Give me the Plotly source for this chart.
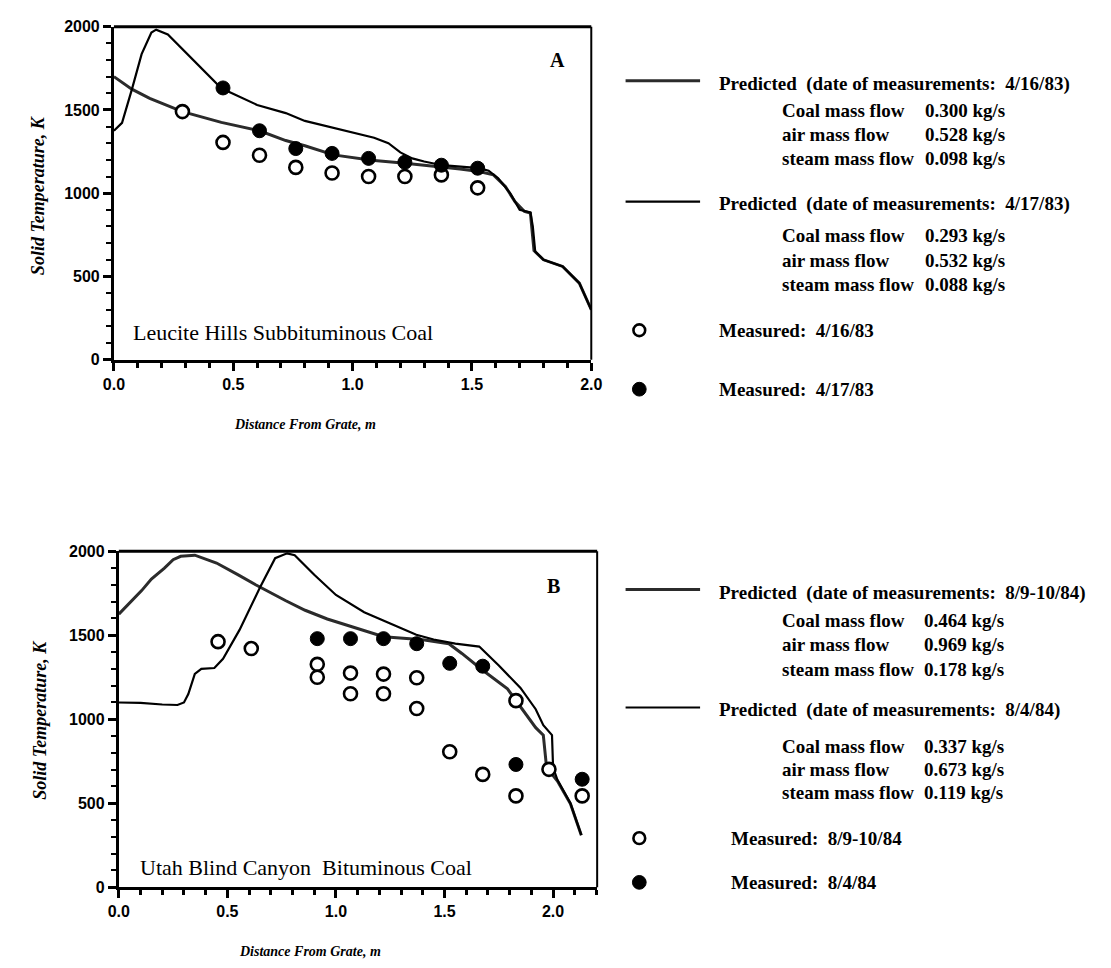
import plotly.graph_objects as go

W, H = 1111, 968

# ---------------- Panel A data (Leucite Hills) ----------------
a_pred1_x = [0, 0.075, 0.15, 0.287, 0.45, 0.61, 0.72, 0.8, 0.92, 1.0, 1.08, 1.22, 1.3, 1.375,
             1.45, 1.53, 1.59, 1.64, 1.68, 1.72, 1.745, 1.76, 1.8, 1.88, 1.95, 2.0]
a_pred1_T = [1700, 1625, 1570, 1490, 1425, 1375, 1316, 1285, 1230, 1215, 1198, 1180, 1168, 1158,
             1145, 1130, 1110, 1040, 950, 890, 880, 655, 600, 560, 460, 300]

a_pred2_x = [0, 0.034, 0.075, 0.116, 0.157, 0.177, 0.226, 0.32, 0.45, 0.6, 0.72, 0.8, 0.95, 1.09,
             1.15, 1.2, 1.25, 1.3, 1.375, 1.45, 1.53, 1.57, 1.61, 1.66, 1.70, 1.745, 1.755,
             1.765, 1.8, 1.88, 1.95, 2.0]
a_pred2_T = [1375, 1422, 1622, 1835, 1965, 1982, 1953, 1817, 1630, 1530, 1481, 1434, 1380, 1333,
             1300, 1245, 1209, 1190, 1168, 1160, 1150, 1135, 1090, 1000, 900, 885, 800,
             650, 600, 560, 460, 300]

a_meas1_x = [0.287, 0.457, 0.61, 0.762, 0.914, 1.067, 1.219, 1.372, 1.524]
a_meas1_T = [1490, 1305, 1228, 1155, 1121, 1100, 1100, 1110, 1032]

a_meas2_x = [0.457, 0.61, 0.762, 0.914, 1.067, 1.219, 1.372, 1.524]
a_meas2_T = [1632, 1375, 1268, 1239, 1209, 1186, 1168, 1150]

# ---------------- Panel B data (Utah Blind Canyon) ----------------
b_pred1_x = [0, 0.05, 0.105, 0.15, 0.21, 0.25, 0.285, 0.35, 0.45, 0.55, 0.63, 0.767, 0.858, 0.96,
             1.1, 1.22, 1.4, 1.52, 1.58, 1.67, 1.79, 1.88, 1.92, 1.955, 1.97, 2.02, 2.08, 2.13]
b_pred1_T = [1626, 1690, 1766, 1835, 1900, 1950, 1970, 1977, 1930, 1860, 1801, 1707, 1649, 1597,
             1540, 1491, 1473, 1450, 1392, 1298, 1181, 1023, 950, 906, 713, 632, 497, 310]

b_pred2_x = [0, 0.1, 0.2, 0.27, 0.3, 0.32, 0.35, 0.38, 0.44, 0.48, 0.556, 0.65, 0.72, 0.775, 0.81,
             0.9, 1.0, 1.13, 1.25, 1.37, 1.45, 1.55, 1.66, 1.75, 1.85, 1.92, 1.955, 1.995, 2.0,
             2.02, 2.08, 2.13]
b_pred2_T = [1100, 1098, 1088, 1085, 1100, 1150, 1270, 1300, 1305, 1360, 1532, 1784, 1959, 1988, 1977,
             1860, 1740, 1637, 1570, 1503, 1475, 1450, 1433, 1320, 1187, 1060, 965, 906, 713,
             640, 500, 310]

b_meas1_x = [0.457, 0.61, 0.914, 0.914, 1.067, 1.067, 1.219, 1.219, 1.372, 1.372, 1.524, 1.676,
             1.829, 1.829, 1.981, 2.134]
b_meas1_T = [1462, 1421, 1327, 1250, 1275, 1152, 1269, 1152, 1247, 1064, 807, 672,
             1111, 544, 702, 544]

b_meas2_x = [0.914, 1.067, 1.219, 1.372, 1.524, 1.676, 1.829, 2.134]
b_meas2_T = [1480, 1480, 1480, 1450, 1333, 1316, 731, 643]

# ---------------- Tick labels ----------------
y_tickvals = [0, 500, 1000, 1500, 2000]
y_ticktext = ["0", "500", "1000", "1500", "2000"]
x_tickvals = [0.0, 0.5, 1.0, 1.5, 2.0]
x_ticktext = ["0.0", "0.5", "1.0", "1.5", "2.0"]

# ---------------- Legend text ----------------
legend_a = [
    ("Predicted  (date of measurements:  4/16/83)", [("Coal mass flow", "0.300 kg/s"),
                                                     ("air mass flow", "0.528 kg/s"),
                                                     ("steam mass flow", "0.098 kg/s")]),
    ("Predicted  (date of measurements:  4/17/83)", [("Coal mass flow", "0.293 kg/s"),
                                                     ("air mass flow", "0.532 kg/s"),
                                                     ("steam mass flow", "0.088 kg/s")]),
]
meas_a = ["Measured:  4/16/83", "Measured:  4/17/83"]
legend_b = [
    ("Predicted  (date of measurements:  8/9-10/84)", [("Coal mass flow", "0.464 kg/s"),
                                                       ("air mass flow", "0.969 kg/s"),
                                                       ("steam mass flow", "0.178 kg/s")]),
    ("Predicted  (date of measurements:  8/4/84)", [("Coal mass flow", "0.337 kg/s"),
                                                    ("air mass flow", "0.673 kg/s"),
                                                    ("steam mass flow", "0.119 kg/s")]),
]
meas_b = ["Measured:  8/9-10/84", "Measured:  8/4/84"]


def px(x):
    return x / W


def py(y):
    return 1 - y / H


SERIF = "Liberation Serif"
SANS = "Liberation Sans"
DOT_COLOR = "#2b2b2b"

fig = go.Figure()


def add_panel(xa, ya, p1x, p1T, p2x, p2T, m1x, m1T, m2x, m2T):
    fig.add_trace(go.Scatter(x=p1x, y=p1T, mode="lines", xaxis=xa, yaxis=ya,
                             line=dict(color=DOT_COLOR, width=3), showlegend=False))
    fig.add_trace(go.Scatter(x=p2x, y=p2T, mode="lines", xaxis=xa, yaxis=ya,
                             line=dict(color="black", width=2.2), showlegend=False))
    fig.add_trace(go.Scatter(x=m1x, y=m1T, mode="markers", xaxis=xa, yaxis=ya, cliponaxis=False,
                             marker=dict(symbol="circle", size=13, color="white",
                                         line=dict(color="black", width=2.6)),
                             showlegend=False))
    fig.add_trace(go.Scatter(x=m2x, y=m2T, mode="markers", xaxis=xa, yaxis=ya, cliponaxis=False,
                             marker=dict(symbol="circle", size=14, color="black",
                                         line=dict(color="black", width=1)),
                             showlegend=False))


add_panel("x", "y", a_pred1_x, a_pred1_T, a_pred2_x, a_pred2_T,
          a_meas1_x, a_meas1_T, a_meas2_x, a_meas2_T)
add_panel("x2", "y2", b_pred1_x, b_pred1_T, b_pred2_x, b_pred2_T,
          b_meas1_x, b_meas1_T, b_meas2_x, b_meas2_T)

tickfont = dict(family=SANS, size=16, color="black", weight="bold")


def xaxis_cfg(domain, rng, anchor):
    return dict(domain=domain, range=rng, anchor=anchor, tickvals=x_tickvals, ticktext=x_ticktext,
                ticks="outside", ticklen=8, tickwidth=2.5, tickcolor="black",
                minor=dict(dtick=0.1, ticks="outside", ticklen=5, tickwidth=2.5, tickcolor="black"),
                showline=True, linewidth=3, linecolor="black", showgrid=False, zeroline=False,
                tickfont=tickfont, fixedrange=True)


def yaxis_cfg(domain, anchor):
    return dict(domain=domain, range=[0, 2000], anchor=anchor, tickvals=y_tickvals,
                ticktext=y_ticktext, ticks="outside", ticklen=8, tickwidth=2.5, tickcolor="black",
                minor=dict(dtick=100, ticks="outside", ticklen=5, tickwidth=2, tickcolor="black"),
                showline=True, linewidth=3, linecolor="black", showgrid=False, zeroline=False,
                tickfont=tickfont, fixedrange=True)


fig.update_layout(
    width=W, height=H, margin=dict(l=0, r=0, t=0, b=0),
    paper_bgcolor="white", plot_bgcolor="white", showlegend=False,
    xaxis=xaxis_cfg([px(105), px(592)], [0, 2.0], "y"),
    yaxis=yaxis_cfg([py(358), py(19)], "x"),
    xaxis2=xaxis_cfg([px(110), px(598)], [0, 2.203], "y2"),
    yaxis2=yaxis_cfg([py(895), py(553)], "x2"),
)

shapes = []
annotations = []

# frame (top and right) of each panel
for xr, yr in (("x", "y"), ("x2", "y2")):
    shapes.append(dict(type="line", xref=f"{xr} domain", yref=f"{yr} domain", x0=0, x1=1, y0=1, y1=1,
                       line=dict(color="black", width=3)))
    shapes.append(dict(type="line", xref=f"{xr} domain", yref=f"{yr} domain", x0=1, x1=1, y0=0, y1=1,
                       line=dict(color="black", width=2)))

# panel labels and coal names
annotations.append(dict(text="<b>A</b>", xref="x", yref="y", x=1.86, y=1800, showarrow=False,
                        font=dict(family=SERIF, size=20, color="black")))
annotations.append(dict(text="<b>B</b>", xref="x2", yref="y2", x=2.0, y=1795, showarrow=False,
                        font=dict(family=SERIF, size=20, color="black")))
annotations.append(dict(text="Leucite Hills Subbituminous Coal", xref="x", yref="y", x=0.07, y=165,
                        xanchor="left", yanchor="middle", showarrow=False,
                        font=dict(family=SERIF, size=22, color="black")))
annotations.append(dict(text="Utah Blind Canyon  Bituminous Coal", xref="x2", yref="y2", x=0.09, y=115,
                        xanchor="left", yanchor="middle", showarrow=False,
                        font=dict(family=SERIF, size=22, color="black")))

# axis titles
ytitle_font = dict(family=SERIF, size=18, color="black", weight="bold", style="italic")
xtitle_font = dict(family=SERIF, size=14, color="black", weight="bold", style="italic")
for ytitle_x, ytitle_y in ((27, 190), (30, 724)):
    annotations.append(dict(text="Solid Temperature, K", xref="paper", yref="paper",
                            x=px(ytitle_x), y=py(ytitle_y), textangle=-90, showarrow=False,
                            xanchor="center", yanchor="middle", font=ytitle_font))
for xt_x, xt_y in ((300, 424), (305, 960)):
    annotations.append(dict(text="Distance From Grate, m", xref="paper", yref="paper",
                            x=px(xt_x), y=py(xt_y), showarrow=False,
                            xanchor="center", yanchor="middle", font=xtitle_font))

leg_font = dict(family=SERIF, size=19, color="black", weight="bold")


def add_legend(entries, meas, head_ys, row_ys, meas_ys, x_text, x_label, x_val, meas_text_x):
    styles = [dict(color=DOT_COLOR, width=3), dict(color="black", width=2.2)]
    for i, (head, rows) in enumerate(entries):
        hy = head_ys[i]
        shapes.append(dict(type="line", xref="paper", yref="paper", x0=px(627), x1=px(703),
                           y0=py(hy - 3), y1=py(hy - 3), line=styles[i]))
        annotations.append(dict(text=head, xref="paper", yref="paper", x=px(x_text), y=py(hy),
                                xanchor="left", yanchor="middle", showarrow=False, font=leg_font))
        for j, (lab, val) in enumerate(rows):
            ry = row_ys[i][j]
            annotations.append(dict(text=lab, xref="paper", yref="paper", x=px(x_label), y=py(ry),
                                    xanchor="left", yanchor="middle", showarrow=False, font=leg_font))
            annotations.append(dict(text=val, xref="paper", yref="paper", x=px(x_val), y=py(ry),
                                    xanchor="left", yanchor="middle", showarrow=False, font=leg_font))
    for k, txt in enumerate(meas):
        my = meas_ys[k]
        r = 6
        if k == 0:
            shapes.append(dict(type="circle", xref="paper", yref="paper", x0=px(641 - r), x1=px(641 + r),
                               y0=py(my + r), y1=py(my - r), fillcolor="white",
                               line=dict(color="black", width=2.6)))
        else:
            shapes.append(dict(type="circle", xref="paper", yref="paper", x0=px(641 - r - 1), x1=px(641 + r + 1),
                               y0=py(my + r + 1), y1=py(my - r - 1), fillcolor="black",
                               line=dict(color="black", width=1)))
        annotations.append(dict(text=txt, xref="paper", yref="paper", x=px(meas_text_x), y=py(my),
                                xanchor="left", yanchor="middle", showarrow=False, font=leg_font))


add_legend(legend_a, meas_a, [77, 200], [[104, 129, 153], [232, 257, 281]], [328, 388],
           720, 785, 930, 720)
add_legend(legend_b, meas_b, [595, 715], [[623, 648, 673], [752, 775, 799]], [845, 890],
           720, 785, 929, 732)

fig.update_layout(shapes=shapes, annotations=annotations)

fig.write_html("out.html", config={"displayModeBar": False},
               post_script="document.body.style.margin='0';document.body.style.overflow='hidden';")
